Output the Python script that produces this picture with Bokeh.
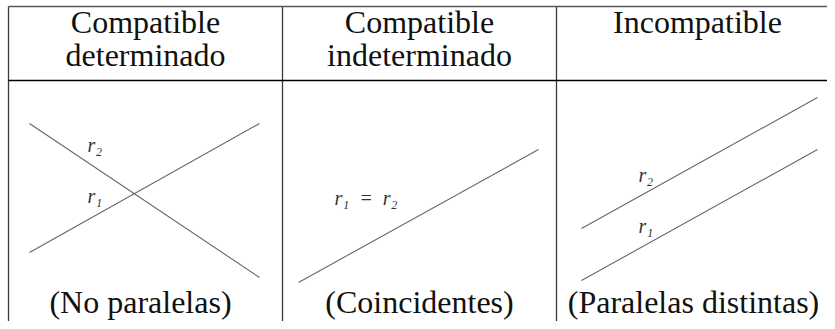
from bokeh.plotting import figure
from bokeh.models import Range1d
from bokeh.core.properties import value
from bokeh.embed import file_html
from bokeh.resources import INLINE

# ---- content (data) ----
headers_line1 = ["Compatible", "Compatible", "Incompatible"]
headers_line2 = ["determinado", "indeterminado", ""]
footers = ["(No paralelas)", "(Coincidentes)", "(Paralelas distintas)"]
col_centers = [145, 419, 697]

# straight lines r1, r2 drawn in each cell (endpoints in chart units)
line_x0 = [29, 29, 298, 581, 581]
line_y0 = [252, 123, 282, 280, 228]
line_x1 = [259, 259, 538, 817, 817]
line_y1 = [123, 277, 149, 149, 97]

# line labels
label_text = ["r\u2082", "r\u2081", "r\u2081\u2002=\u2002r\u2082", "r\u2082", "r\u2081"]
label_x = [87, 87, 334, 638, 638]
label_y = [144, 195, 197, 174, 225]

# table rules
vrule_x = [8, 282, 556]
header_rule_y = 80
top_rule_y = 6

SERIF = value("Liberation Serif")

p = figure(width=827, height=321, output_backend="svg", toolbar_location=None,
           x_range=Range1d(0, 827), y_range=Range1d(321, 0),
           min_border=0, outline_line_color=None, background_fill_color="white")
p.axis.visible = False
p.grid.visible = False

# table borders
p.segment(x0=vrule_x, y0=[top_rule_y] * 3, x1=vrule_x, y1=[321] * 3,
          line_color="#3a3a3a", line_width=1.3)
p.segment(x0=[8], y0=[top_rule_y], x1=[827], y1=[top_rule_y],
          line_color="#555555", line_width=1.3)
p.segment(x0=[8], y0=[header_rule_y], x1=[827], y1=[header_rule_y],
          line_color="#000000", line_width=1.3)

# the lines
p.segment(x0=line_x0, y0=line_y0, x1=line_x1, y1=line_y1,
          line_color="#666666", line_width=1.1)

# headers
p.text(x=col_centers, y=[21] * 3, text=headers_line1, text_font=SERIF,
       text_font_size="32px", text_align="center", text_baseline="alphabetic",
       text_color="#111111")
p.text(x=col_centers, y=[54] * 3, text=headers_line2, text_font=SERIF,
       text_font_size="32px", text_align="center", text_baseline="alphabetic",
       text_color="#111111")
# footers
p.text(x=[140, 419, 693], y=[301] * 3, text=footers, text_font=SERIF,
       text_font_size="32px", text_align="center", text_baseline="alphabetic",
       text_color="#111111")
# labels
p.text(x=label_x, y=label_y, text=label_text, text_font=SERIF,
       text_font_style="italic", text_font_size="20px", text_align="left",
       text_baseline="alphabetic", text_color="#333333")

open("out.html", "w").write(file_html(p, INLINE))
